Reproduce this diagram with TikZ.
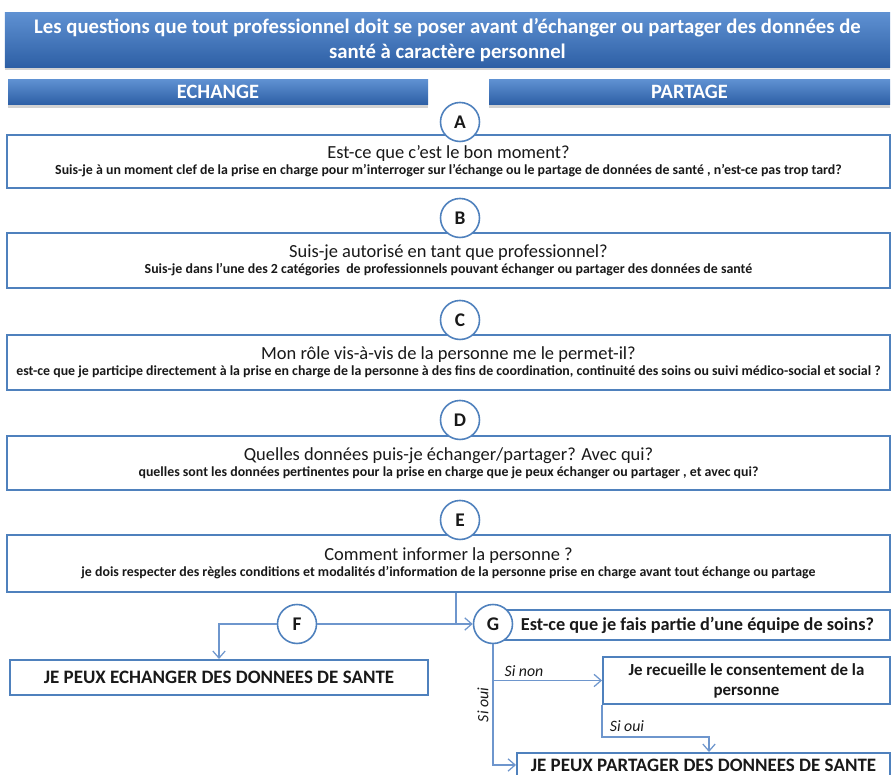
\documentclass[tikz,border=0pt]{standalone}
\usepackage{fontspec}
\setmainfont{Carlito}
\usetikzlibrary{arrows.meta,shadows}

\definecolor{boxblue}{RGB}{79,129,189}
\definecolor{linkblue}{RGB}{110,150,205}
\definecolor{bannertop}{RGB}{95,145,210}
\definecolor{bannerbot}{RGB}{45,95,165}
\definecolor{inkgray}{RGB}{25,25,25}

\newcommand{\qtitle}[1]{{\fontsize{10.5}{12}\selectfont #1}}
\newcommand{\qsub}[1]{{\fontsize{7.9}{9}\selectfont\bfseries #1}}

\begin{document}
\begin{tikzpicture}[scale=1.0,
    banner/.style={rectangle, top color=bannertop, bottom color=bannerbot, draw=none, text=white,
        drop shadow={shadow xshift=0pt, shadow yshift=-0.06cm, opacity=0.35}},
    qbox/.style={rectangle, draw=boxblue, line width=1.1pt, fill=white, text=inkgray, align=center},
    letter/.style={circle, draw=boxblue, line width=0.9pt, fill=white, minimum size=0.78cm,
        inner sep=0pt, text=inkgray, font=\fontsize{11}{12}\selectfont\bfseries},
    link/.style={draw=linkblue, line width=0.7pt},
    arr/.style={-{Straight Barb[length=4pt,width=7pt]}},
    cond/.style={text=inkgray, font=\fontsize{9}{10}\selectfont\itshape}
]
    \path[use as bounding box, fill=white] (0, 0) rectangle (17.86, 15.5);

    % Title and the two columns
    \node[banner, minimum width=17.7cm, minimum height=1.1cm, align=center,
        font=\fontsize{11.8}{14}\selectfont\bfseries] (title) at (8.95, 14.7) {
        Les questions que tout professionnel doit se poser avant d’échanger ou partager des données de \\
        santé à caractère personnel
    };
    \node[banner, minimum width=8.4cm, minimum height=0.48cm,
        font=\fontsize{11.6}{12}\selectfont\bfseries] (echange) at (4.36, 13.66) {ECHANGE};
    \node[banner, minimum width=8.02cm, minimum height=0.48cm,
        font=\fontsize{11.6}{12}\selectfont\bfseries] (partage) at (13.79, 13.66) {PARTAGE};

    % Question boxes A to E
    \node[qbox, minimum width=17.66cm, minimum height=1.06cm] (qA) at (8.97, 12.27) {
        \qtitle{Est-ce que c’est le bon moment?} \\[-3pt]
        \qsub{Suis-je à un moment clef de la prise en charge pour m’interroger sur l’échange ou le partage de données de santé , n’est-ce pas trop tard?}
    };
    \node[qbox, minimum width=17.66cm, minimum height=1.1cm] (qB) at (8.97, 10.29) {
        \qtitle{Suis-je autorisé en tant que professionnel?} \\[-3pt]
        \qsub{Suis-je dans l’une des 2 catégories \ de professionnels pouvant échanger ou partager des données de santé}
    };
    \node[qbox, minimum width=17.66cm, minimum height=1.1cm] (qC) at (8.97, 8.25) {
        \qtitle{Mon rôle vis-à-vis de la personne me le permet-il?} \\[-3pt]
        \qsub{est-ce que je participe directement à la prise en charge de la personne à des fins de coordination, continuité des soins ou suivi médico-social et social ?}
    };
    \node[qbox, minimum width=17.66cm, minimum height=1.08cm] (qD) at (8.97, 6.24) {
        \qtitle{Quelles données puis-je échanger/partager? Avec qui?} \\[-3pt]
        \qsub{quelles sont les données pertinentes pour la prise en charge que je peux échanger ou partager , et avec qui?}
    };
    \node[qbox, minimum width=17.66cm, minimum height=1.14cm] (qE) at (8.97, 4.23) {
        \qtitle{Comment informer la personne ?} \\[-3pt]
        \qsub{je dois respecter des règles conditions et modalités d’information de la personne prise en charge avant tout échange ou partage}
    };

    % Letters on top of the boxes
    \node[letter] (cA) at (9.2, 13.06) {A};
    \node[letter] (cB) at (9.2, 11.14) {B};
    \node[letter] (cC) at (9.2, 9.1) {C};
    \node[letter] (cD) at (9.2, 7.1) {D};
    \node[letter] (cE) at (9.2, 5.1) {E};

    % Bottom part: echange on the left, partage on the right
    \node[qbox, minimum width=8.36cm, minimum height=0.7cm,
        font=\fontsize{10.8}{12}\selectfont\bfseries] (echanger) at (4.38, 1.95) {JE PEUX ECHANGER DES DONNEES DE SANTE};
    \node[qbox, minimum width=7.7cm, minimum height=0.6cm,
        font=\fontsize{10.4}{12}\selectfont\bfseries] (equipe) at (13.95, 3.0) {Est-ce que je fais partie d’une équipe de soins?};
    \node[qbox, minimum width=5.74cm, minimum height=0.9cm,
        font=\fontsize{9.6}{11.4}\selectfont\bfseries] (consent) at (14.93, 1.89) {
        Je recueille le consentement de la \\
        personne
    };
    \node[qbox, minimum width=7.46cm, minimum height=0.48cm, inner sep=1pt,
        font=\fontsize{10.8}{12}\selectfont\bfseries] (partager) at (14.07, 0.2) {JE PEUX PARTAGER DES DONNEES DE SANTE};

    \node[letter] (cF) at (5.94, 3.02) {F};
    \node[letter] (cG) at (9.86, 3.02) {G};

    % Connectors
    \coordinate (split) at (9.12, 3.02);
    \coordinate (bend) at (14.18, 0.76);
    \draw[link] (qE.south -| split) -- (split);
    \draw[link, arr] (cF) -- (cG);
    \draw[link, arr] (cF.west) -| (echanger.north);
    \draw[link, arr] (cG.south) |- (partager.west);
    \draw[link, arr] (cG.south |- consent.west) -- (consent.west);
    \draw[link, arr] (consent.south west) |- (bend) -- (bend |- partager.north);

    % Conditions
    \node[cond] (sinon) at (10.48, 2.07) {Si non};
    \node[cond, rotate=90] (siouiG) at (9.66, 1.4) {Si oui};
    \node[cond] (siouiC) at (12.54, 0.97) {Si oui};
\end{tikzpicture}
\end{document}
